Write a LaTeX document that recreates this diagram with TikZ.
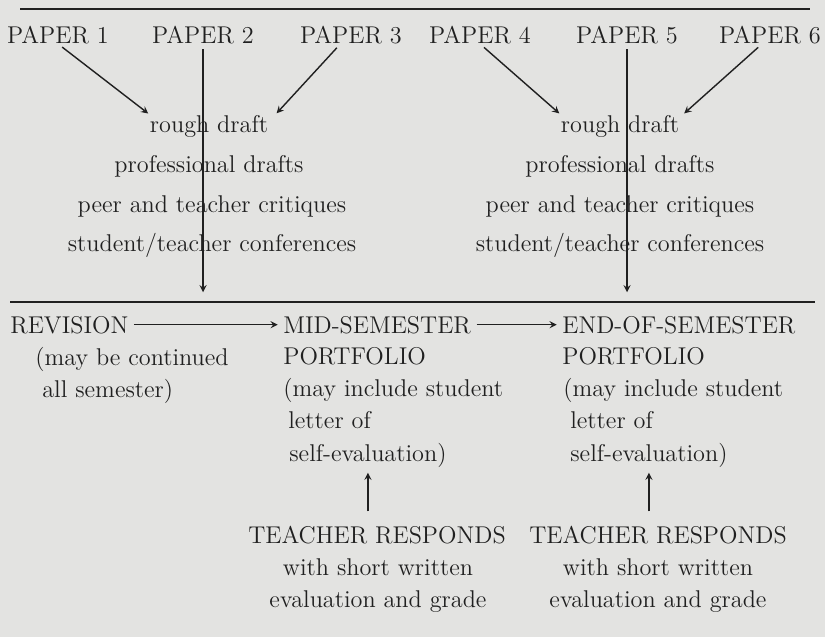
\documentclass[tikz,border=0pt]{standalone}
\usetikzlibrary{arrows.meta}
\definecolor{papier}{RGB}{227,227,225}
\definecolor{encre}{RGB}{32,32,32}
\begin{document}
\begin{tikzpicture}[x=0.02cm,y=-0.02cm,>=stealth,
  txt/.style={inner sep=0pt,anchor=base,text=encre,font=\fontsize{13.8}{16}\selectfont},
  txtg/.style={txt,anchor=base west},
  fleche/.style={->,draw=encre,line width=0.8pt,shorten <=3pt,shorten >=1pt},
  filet/.style={draw=encre,line width=1.1pt}]
  % fond de page
  \fill[papier] (0,0) rectangle (825,637);
  \draw[filet] (20,9) -- (810,9);

  % Les six papiers
  \node[txt] (p1) at (58,43) {PAPER 1};
  \node[txt] (p2) at (203,43) {PAPER 2};
  \node[txt] (p3) at (351,43) {PAPER 3};
  \node[txt] (p4) at (480,43) {PAPER 4};
  \node[txt] (p5) at (627,43) {PAPER 5};
  \node[txt] (p6) at (770,43) {PAPER 6};

  % Etapes (gauche)
  \node[txt] (rd1) at (209,132) {rough draft};
  \node[txt] (pro1) at (209,172) {professional drafts};
  \node[txt] (crit1) at (212,212) {peer and teacher critiques};
  \node[txt] (conf1) at (212,251) {student/teacher conferences};
  % Etapes (droite)
  \node[txt] (rd2) at (620,132) {rough draft};
  \node[txt] (pro2) at (620,172) {professional drafts};
  \node[txt] (crit2) at (620,212) {peer and teacher critiques};
  \node[txt] (conf2) at (620,251) {student/teacher conferences};

  % Fleches vers le brouillon
  \draw[fleche] (p1.south) -- (rd1.north west);
  \draw[fleche] ([xshift=-6pt]p3.south) -- ([xshift=4pt]rd1.north east);
  \draw[fleche] (p4.south) -- (rd2.north west);
  \draw[fleche] ([xshift=-4.5pt]p6.south) -- ([xshift=2pt]rd2.north east);
  \coordinate (b2) at (203,294);
  \coordinate (b5) at (627,294);
  \draw[fleche] (p2.south) -- (b2);
  \draw[fleche] (p5.south) -- (b5);

  \draw[filet] (10,302) -- (815,302);

  % Revision et portfolios
  \node[txtg] (rev) at (10,333) {REVISION};
  \node[txtg] (rev2) at (35,365) {(may be continued};
  \node[txtg] (rev3) at (42,397) {all semester)};
  \node[txtg] (mid) at (283,333) {MID-SEMESTER};
  \node[txtg] (mid2) at (283,364) {PORTFOLIO};
  \node[txtg] (mid3) at (283,396) {(may include student};
  \node[txtg] (mid4) at (288,428) {letter of};
  \node[txtg] (se1) at (289,461) {self-evaluation)};
  \node[txtg] (fin) at (562,333) {END-OF-SEMESTER};
  \node[txtg] (fin2) at (562,364) {PORTFOLIO};
  \node[txtg] (fin3) at (563,396) {(may include student};
  \node[txtg] (fin4) at (570,428) {letter of};
  \node[txtg] (se2) at (570,461) {self-evaluation)};
  \draw[fleche,shorten >=3pt] (rev.east) -- (mid.west);
  \draw[fleche,shorten >=3pt] (mid.east) -- (fin.west);

  % Reponse de l'enseignant
  \node[txt] (tr1) at (377,543) {TEACHER RESPONDS};
  \node[txt] (ws1) at (378,575) {with short written};
  \node[txt] (eg1) at (378,607) {evaluation and grade};
  \node[txt] (tr2) at (658,543) {TEACHER RESPONDS};
  \node[txt] (ws2) at (658,575) {with short written};
  \node[txt] (eg2) at (658,607) {evaluation and grade};
  \draw[fleche,shorten <=8pt,shorten >=3pt] (tr1.north -| se1.south) -- (se1.south);
  \draw[fleche,shorten <=8pt,shorten >=3pt] (tr2.north -| se2.south) -- (se2.south);
\end{tikzpicture}
\end{document}
